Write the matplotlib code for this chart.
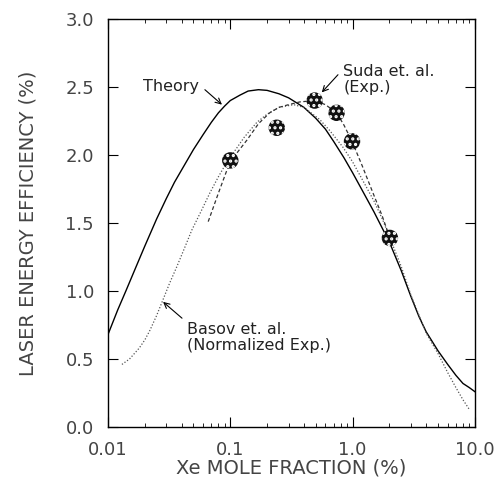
import numpy as np
import matplotlib.pyplot as plt

# curves (Xe mole fraction %, efficiency %)
theory_x = [0.01, 0.012, 0.014, 0.017, 0.02, 0.025, 0.03, 0.035, 0.04, 0.05,
            0.06, 0.07, 0.08, 0.09, 0.1, 0.12, 0.14, 0.17, 0.2, 0.25,
            0.3, 0.4, 0.5, 0.6, 0.7, 0.85, 1.0, 1.2, 1.5, 1.8,
            2.0, 2.5, 3.0, 3.5, 4.0, 5.0, 6.0, 7.0, 8.0, 9.0, 10.0]
theory_y = [0.68, 0.86, 1.0, 1.18, 1.33, 1.53, 1.68, 1.80, 1.89, 2.04,
            2.15, 2.24, 2.31, 2.36, 2.40, 2.44, 2.47, 2.48, 2.475, 2.45,
            2.42, 2.35, 2.27, 2.19, 2.10, 1.98, 1.87, 1.74, 1.58, 1.44,
            1.36, 1.15, 0.96, 0.81, 0.70, 0.56, 0.46, 0.38, 0.32, 0.29, 0.26]

basov_x = [0.013, 0.015, 0.018, 0.02, 0.022, 0.025, 0.028, 0.032, 0.0366, 0.042,
           0.0486, 0.058, 0.068, 0.08, 0.09, 0.105, 0.13, 0.165, 0.2, 0.25,
           0.33, 0.4, 0.54, 0.65, 0.83, 1.0, 1.2, 1.5, 1.77, 2.0,
           2.5, 3.0, 3.5, 4.0, 5.0, 6.0, 7.0, 8.0, 9.0]
basov_y = [0.46, 0.50, 0.58, 0.64, 0.71, 0.82, 0.93, 1.06, 1.18, 1.31,
           1.45, 1.59, 1.72, 1.84, 1.92, 2.01, 2.13, 2.24, 2.30, 2.35,
           2.37, 2.35, 2.26, 2.18, 2.06, 1.95, 1.82, 1.66, 1.52, 1.40,
           1.18, 0.97, 0.82, 0.69, 0.54, 0.40, 0.29, 0.20, 0.13]

suda_fit_x = [0.066, 0.08, 0.094, 0.11, 0.137, 0.17, 0.21, 0.25, 0.3, 0.37,
              0.49, 0.6, 0.74, 0.85, 0.99, 1.2, 1.47, 1.75, 2.02]
suda_fit_y = [1.51, 1.72, 1.89, 2.0, 2.11, 2.23, 2.31, 2.35, 2.37, 2.39,
              2.40, 2.37, 2.31, 2.22, 2.10, 1.92, 1.72, 1.55, 1.39]

suda_x = [0.1, 0.24, 0.49, 0.74, 0.99, 2.02]
suda_y = [1.96, 2.20, 2.40, 2.31, 2.10, 1.39]

xticks = [0.01, 0.1, 1.0, 10.0]
xlabels = ["0.01", "0.1", "1.0", "10.0"]
yticks = [0.0, 0.5, 1.0, 1.5, 2.0, 2.5, 3.0]

txt = "#444444"
plt.rcParams["hatch.linewidth"] = 1.5

fig = plt.figure(figsize=(5.03, 4.99), dpi=100)
ax = fig.add_axes([0.2147, 0.1443, 0.7293, 0.8177])

ax.plot(theory_x, theory_y, color="black", lw=1.0)
ax.plot(basov_x, basov_y, color="#555555", lw=0.9, linestyle=(0, (1, 1.5)))
ax.plot(suda_fit_x, suda_fit_y, color="#333333", lw=0.9, linestyle=(0, (3, 2)))

ax.scatter(suda_x, suda_y, s=140, facecolor="#111111", edgecolor="white",
           hatch="...", linewidth=0, zorder=5)

ax.set_xscale("log")
ax.set_xlim(0.01, 10.0)
ax.set_ylim(0.0, 3.0)
ax.set_xticks(xticks)
ax.set_xticklabels(xlabels)
ax.set_yticks(yticks)
ax.set_yticklabels([f"{v:.1f}" for v in yticks])

ax.tick_params(which="both", direction="in", top=True, right=True,
               labelsize=13, labelcolor=txt, pad=10)
ax.tick_params(which="major", length=7)
ax.tick_params(which="minor", length=3)
for s in ax.spines.values():
    s.set_linewidth(1.0)

ax.set_xlabel("Xe MOLE FRACTION (%)", fontsize=14, color=txt, labelpad=0)
ax.set_ylabel("LASER ENERGY EFFICIENCY (%)", fontsize=14, color=txt, labelpad=20)

# labels and their arrows
arrow = dict(arrowstyle="->", color="black", lw=0.8, shrinkA=0, shrinkB=0)
ax.text(0.0193, 2.50, "Theory", fontsize=11.5, color="#222222", va="center")
ax.annotate("", xy=(0.0855, 2.37), xytext=(0.062, 2.48), arrowprops=arrow)

ax.text(0.84, 2.555, "Suda et. al.\n(Exp.)", fontsize=11.5, color="#222222",
        va="center", ha="left", linespacing=1.1)
ax.annotate("", xy=(0.56, 2.46), xytext=(0.76, 2.59), arrowprops=arrow)

ax.text(0.0443, 0.66, "Basov et. al.\n(Normalized Exp.)", fontsize=11.5,
        color="#222222", va="center", ha="left", linespacing=1.1)
ax.annotate("", xy=(0.0282, 0.92), xytext=(0.0403, 0.80), arrowprops=arrow)

fig.savefig("out.png", dpi=100)
